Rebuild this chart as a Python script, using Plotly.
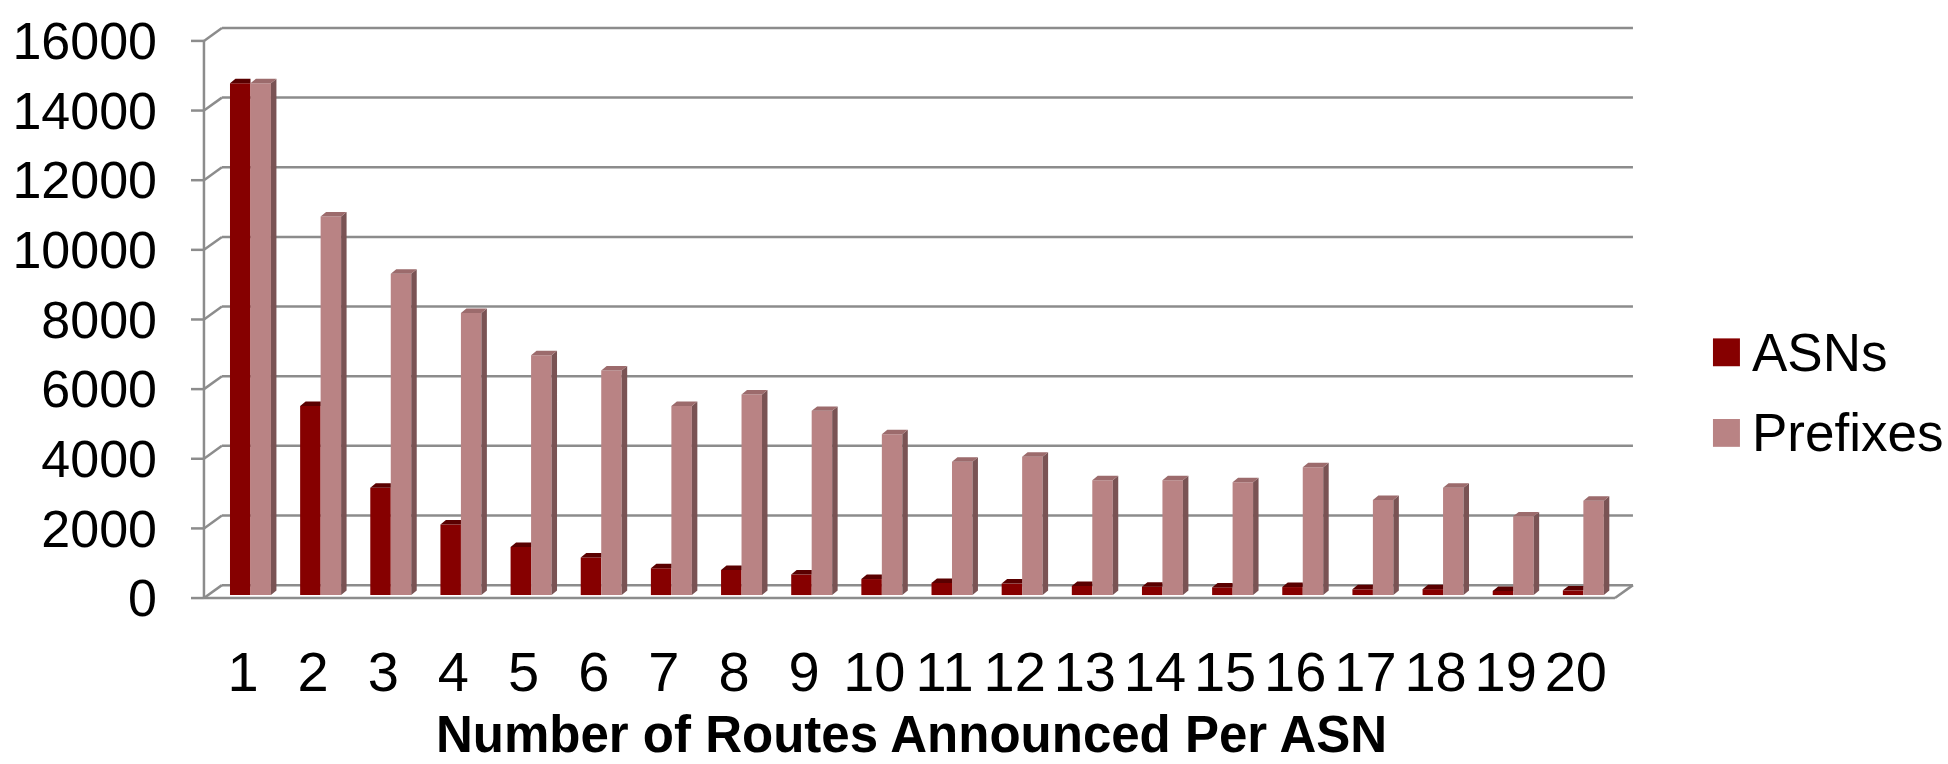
import plotly.graph_objects as go

# Distribution of ASNs by how many routes each announces, and the prefixes they account for
routes = list(range(1, 21))
asns = [14700, 5430, 3080, 2030, 1380, 1080, 770, 720, 590, 460,
        350, 330, 260, 240, 220, 230, 165, 170, 120, 135]
prefixes = [14700, 10870, 9230, 8100, 6890, 6450, 5430, 5760, 5290, 4620,
            3830, 3970, 3300, 3300, 3240, 3670, 2730, 3080, 2260, 2710]
y_ticks = [0, 2000, 4000, 6000, 8000, 10000, 12000, 14000, 16000]
x_title = "Number of Routes Announced Per ASN"
series_names = ["ASNs", "Prefixes"]

# colours
ASN_FRONT, ASN_TOP = "#860000", "#5a0000"
PFX_FRONT, PFX_SIDE, PFX_TOP = "#b98384", "#7a5354", "#9c6b6c"
GRID = "#8c8c8c"

# pseudo-3D geometry, in data units
W, H = 1948, 764
L_PX, R_PX, T_PX, B_PX = 185, 1650, 20, 610
X_RANGE = [0.188, 21.057]
Y_RANGE = [-342.9, 16514.3]
AXIS_X = 0.444          # front-left edge of the box
FLOOR_RIGHT_X = 20.558  # front-right corner of the floor
WALL_DX, WALL_DV = 0.256, 371.4   # depth of the box (x units, value units)
TICK_LEN = 0.185
BAR_W = 0.292
ASN_OFFSET = -0.185
PFX_OFFSET = ASN_OFFSET + BAR_W
BAR_BASE = 86                     # bars stand a little behind the front edge
BAR_DX, BAR_DV = 0.078, 128       # bar depth

fig = go.Figure()

fig.add_trace(go.Bar(x=routes, y=asns, base=BAR_BASE, width=BAR_W, offset=ASN_OFFSET,
                     marker=dict(color=ASN_FRONT, line=dict(width=0)),
                     name=series_names[0], showlegend=False, hoverinfo="skip"))
fig.add_trace(go.Bar(x=routes, y=prefixes, base=BAR_BASE, width=BAR_W, offset=PFX_OFFSET,
                     marker=dict(color=PFX_FRONT, line=dict(width=0)),
                     name=series_names[1], showlegend=False, hoverinfo="skip"))


def faces(values, offset, kind):
    xs, ys = [], []
    for n, v in zip(routes, values):
        xl = n + offset
        xr = xl + BAR_W
        b = BAR_BASE
        t = BAR_BASE + v
        if kind == "side":
            px = [xr, xr + BAR_DX, xr + BAR_DX, xr, xr]
            py = [b, b + BAR_DV, t + BAR_DV, t, b]
        elif kind == "top":
            px = [xl, xl + BAR_DX, xr + BAR_DX, xr, xl]
            py = [t, t + BAR_DV, t + BAR_DV, t, t]
        else:  # top face partly hidden behind the neighbouring bar
            px = [xl, xl + BAR_DX, xr, xr, xl]
            py = [t, t + BAR_DV, t + BAR_DV, t, t]
        xs += px + [None]
        ys += py + [None]
    return xs, ys


for vals, off, kind, col in [(asns, ASN_OFFSET, "clipped", ASN_TOP),
                             (prefixes, PFX_OFFSET, "side", PFX_SIDE),
                             (prefixes, PFX_OFFSET, "top", PFX_TOP)]:
    fx, fy = faces(vals, off, kind)
    fig.add_trace(go.Scatter(x=fx, y=fy, mode="lines", fill="toself", fillcolor=col,
                             line=dict(width=0, color=col), showlegend=False,
                             hoverinfo="skip"))

# box: ticks, side wall, back wall grid, floor
shapes = []
line = dict(color=GRID, width=2.5)
for v in y_ticks:
    shapes.append(dict(type="line", xref="x", yref="y", x0=AXIS_X - TICK_LEN, y0=v,
                       x1=AXIS_X, y1=v, line=line, layer="below"))
    shapes.append(dict(type="line", xref="x", yref="y", x0=AXIS_X, y0=v,
                       x1=AXIS_X + WALL_DX, y1=v + WALL_DV, line=line, layer="below"))
    shapes.append(dict(type="line", xref="x", yref="y", x0=AXIS_X + WALL_DX, y0=v + WALL_DV,
                       x1=FLOOR_RIGHT_X + WALL_DX, y1=v + WALL_DV, line=line, layer="below"))
shapes.append(dict(type="line", xref="x", yref="y", x0=AXIS_X, y0=y_ticks[0],
                   x1=AXIS_X, y1=y_ticks[-1], line=line, layer="below"))
shapes.append(dict(type="line", xref="x", yref="y", x0=AXIS_X, y0=0,
                   x1=FLOOR_RIGHT_X, y1=0, line=line, layer="below"))
shapes.append(dict(type="line", xref="x", yref="y", x0=FLOOR_RIGHT_X, y0=0,
                   x1=FLOOR_RIGHT_X + WALL_DX, y1=WALL_DV, line=line, layer="below"))

# legend drawn by hand so the swatches can be large
pw, ph = R_PX - L_PX, B_PX - T_PX


def px_x(p):
    return (p - L_PX) / pw


def px_y(p):
    return (B_PX - p) / ph


annotations = []
for i, (name, col) in enumerate(zip(series_names, [ASN_FRONT, PFX_FRONT])):
    cy = 351 + i * 81
    shapes.append(dict(type="rect", xref="paper", yref="paper",
                       x0=px_x(1713), x1=px_x(1740), y0=px_y(cy + 14), y1=px_y(cy - 14),
                       fillcolor=col, line=dict(width=0)))
    annotations.append(dict(text=name, xref="paper", yref="paper", x=px_x(1750), y=px_y(cy),
                            xanchor="left", yanchor="middle", showarrow=False,
                            font=dict(family="Liberation Sans, Arial, sans-serif", size=53,
                                      color="black")))

annotations.append(dict(text="<b>%s</b>" % x_title, xref="paper", yref="paper",
                        x=px_x(911), y=px_y(735), xanchor="center", yanchor="middle",
                        showarrow=False,
                        font=dict(family="Liberation Sans, Arial, sans-serif", size=51,
                                  color="black")))

fig.update_layout(
    width=W, height=H, autosize=False,
    margin=dict(l=L_PX, r=W - R_PX, t=T_PX, b=H - B_PX, pad=0),
    paper_bgcolor="white", plot_bgcolor="white",
    barmode="overlay", showlegend=False,
    shapes=shapes, annotations=annotations,
    xaxis=dict(range=X_RANGE, tickmode="array", tickvals=routes,
               ticktext=[str(r) for r in routes], ticks="", showgrid=False,
               zeroline=False, showline=False, ticklabelstandoff=24,
               tickfont=dict(family="Liberation Sans Narrow, Arial Narrow, Liberation Sans",
                             size=56, color="black")),
    yaxis=dict(range=Y_RANGE, tickmode="array", tickvals=y_ticks,
               ticktext=[str(v) for v in y_ticks], ticks="", showgrid=False,
               zeroline=False, showline=False, ticklabelstandoff=28,
               tickfont=dict(family="Liberation Sans, Arial, sans-serif", size=52,
                             color="black")),
)

fig.write_html("out.html")
